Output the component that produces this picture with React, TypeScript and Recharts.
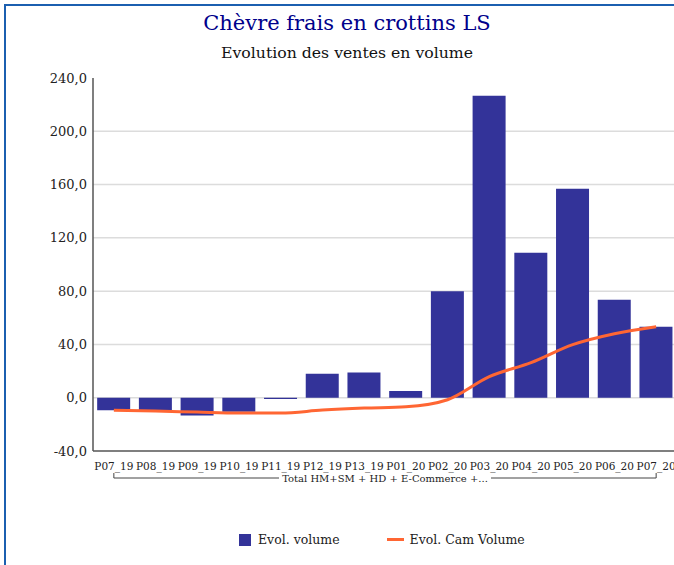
import { ComposedChart, Bar, Line, XAxis, YAxis, CartesianGrid } from 'recharts';

const periods = ['P07_19', 'P08_19', 'P09_19', 'P10_19', 'P11_19', 'P12_19', 'P13_19', 'P01_20', 'P02_20', 'P03_20', 'P04_20', 'P05_20', 'P06_20', 'P07_20'];
const evolVolume = [-9.5, -9.5, -13.3, -10.5, -1, 18, 19, 5, 80, 226.7, 108.9, 156.9, 73.6, 53.3];
const evolCam = [-9.5, -10, -10.8, -11.5, -11.5, -9.3, -7.8, -6.8, -1.5, 15.8, 26.3, 39.8, 48, 53.3];
const groupLabel = 'Total HM+SM + HD + E-Commerce +...';
const yTicks = [-40, 0, 40, 80, 120, 160, 200, 240];

const data = periods.map((p, i) => ({
  period: p,
  volume: evolVolume[i],
  cam: evolCam[i],
}));

const FONT = '"DejaVu Serif", serif';
const CHART_W = 677;
const Y_W = 93;
const plotW = CHART_W - Y_W;
const band = plotW / periods.length;

const fmt = (v: number) => v.toFixed(1).replace('.', ',');

// period label + the "Total ..." bracket (drawn once, from the first tick)
const PeriodTick = (props: any) => {
  const { x, y, payload, index } = props;
  const label = (
    <text x={x} y={y} dy={11} textAnchor="middle" fontSize={10.5} fontFamily={FONT} fill="#222">
      {payload.value}
    </text>
  );
  if (index !== 0) return label;
  const x2 = x + (periods.length - 1) * band;
  const cx = (x + x2) / 2;
  const ly = y + 19;
  const tw = 212;
  return (
    <g>
      {label}
      <path d={`M${x},${ly - 5}V${ly}H${x2}V${ly - 5}`} fill="none" stroke="#444" strokeWidth={1} />
      <rect x={cx - tw / 2} y={ly - 8} width={tw} height={14} fill="#fff" />
      <text x={cx} y={ly} dy={3.5} textAnchor="middle" fontSize={10} fontFamily={FONT} fill="#222">
        {groupLabel}
      </text>
    </g>
  );
};

export default function App() {
  return (
    <div style={{ position: 'absolute', left: 0, top: 0, width: 674, height: 565, overflow: 'hidden', background: '#fff', fontFamily: FONT }}>
      <div style={{ position: 'absolute', left: 4, top: 4, right: 0, height: 2, background: '#1b5fb0' }} />
      <div style={{ position: 'absolute', left: 4, top: 4, bottom: 0, width: 2, background: '#1b5fb0' }} />
      <div style={{ position: 'absolute', left: 0, top: 11, width: 694, textAlign: 'center', fontSize: 21, color: '#00008b' }}>
        Chèvre frais en crottins LS
      </div>
      <div style={{ position: 'absolute', left: 0, top: 43, width: 694, textAlign: 'center', fontSize: 15.7, color: '#111' }}>
        Evolution des ventes en volume
      </div>
      <div style={{ position: 'absolute', left: 0, top: 0 }}>
        <ComposedChart width={CHART_W} height={565} data={data} margin={{ top: 78, right: 0, bottom: 80, left: 0 }} barCategoryGap="10%">
          <CartesianGrid vertical={false} stroke="#dcdcdc" strokeWidth={1.5} horizontalValues={[0, 40, 80, 120, 160, 200]} />
          <XAxis dataKey="period" height={34} tick={<PeriodTick />} tickLine={false} axisLine={{ stroke: '#555', strokeWidth: 1.5 }} interval={0} />
          <YAxis
            width={Y_W}
            domain={[-40, 240]}
            ticks={yTicks}
            tickFormatter={fmt}
            tickLine={false}
            tickSize={4}
            tickMargin={2}
            axisLine={{ stroke: '#555', strokeWidth: 1.5 }}
            tick={{ fontSize: 13, fontFamily: FONT, fill: '#222' }}
          />
          <Bar dataKey="volume" fill="#333399" isAnimationActive={false} />
          <Line dataKey="cam" type="monotone" stroke="#ff6633" strokeWidth={3} dot={false} isAnimationActive={false} />
        </ComposedChart>
      </div>
      <div style={{ position: 'absolute', top: 532, left: 239, display: 'flex', alignItems: 'center', fontSize: 12.5, color: '#222' }}>
        <span style={{ display: 'inline-block', width: 12, height: 12, background: '#333399', marginRight: 7 }} />
        <span>Evol. volume</span>
        <span style={{ display: 'inline-block', width: 17, height: 3, background: '#ff6633', marginLeft: 47, marginRight: 6 }} />
        <span>Evol. Cam Volume</span>
      </div>
    </div>
  );
}
